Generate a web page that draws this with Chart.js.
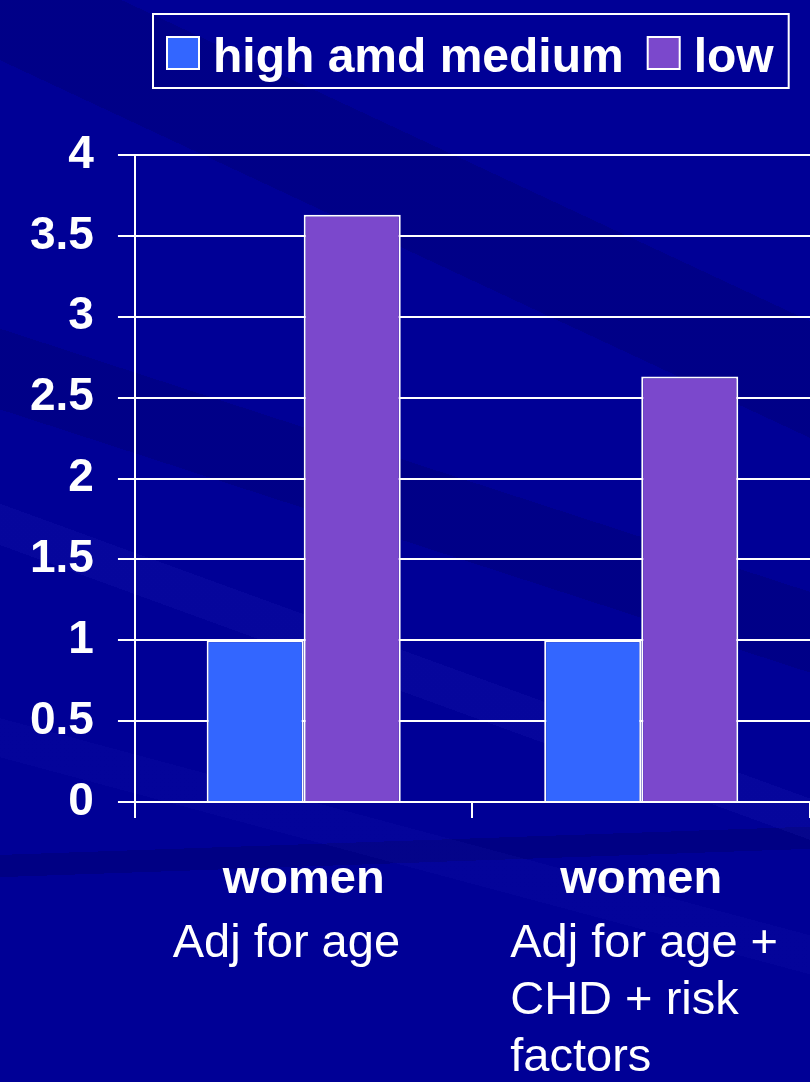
<!DOCTYPE html>
<html>
<head>
<meta charset="utf-8">
<title>high amd medium / low</title>
<script src="https://cdn.jsdelivr.net/npm/chart.js@4.4.0/dist/chart.umd.min.js"></script>
<style>
html, body { margin: 0; padding: 0; }
body {
    width: 810px;
    height: 1082px;
    overflow: hidden;
    background-color: #000096;
    background-image:
        linear-gradient(205deg, transparent 0 22%, rgba(0,0,70,0.18) 22% 30%, transparent 30% 100%),
        linear-gradient(198deg, transparent 0 44%, rgba(0,0,60,0.16) 44% 50%, transparent 50% 100%),
        linear-gradient(200deg, transparent 0 58%, rgba(60,60,210,0.10) 58% 61%, transparent 61% 100%),
        linear-gradient(195deg, transparent 0 72%, rgba(50,50,200,0.08) 72% 75%, transparent 75% 100%),
        linear-gradient(178deg, transparent 0 77%, rgba(0,0,60,0.20) 77% 79%, transparent 79% 100%);
}
canvas { display: block; }
</style>
</head>
<body>
<canvas id="chart" width="810" height="1082"></canvas>
<script>
// Datos
const categories = [
    ['women', 'Adj for age'],
    ['women', 'Adj for age +', 'CHD + risk', 'factors']
];
const seriesNames = ['high amd medium', 'low'];
const highMedium = [1, 1];
const low = [3.63, 2.63];
const yTicks = [0, 0.5, 1, 1.5, 2, 2.5, 3, 3.5, 4];

const colors = ['#3366FF', '#7B48CC'];
const FONT = '"Liberation Sans", Arial, Helvetica, sans-serif';

Chart.defaults.font.family = FONT;

// Leyenda con marco blanco
const boxLegend = {
    id: 'boxLegend',
    afterDraw(chart) {
        const ctx = chart.ctx;
        const sets = chart.data.datasets;
        ctx.save();
        ctx.font = 'bold 48px ' + FONT;
        ctx.textBaseline = 'alphabetic';
        let x = 167;
        sets.forEach((ds, i) => {
            ctx.fillStyle = ds.backgroundColor;
            ctx.fillRect(x, 37, 32, 32);
            ctx.strokeStyle = '#fff';
            ctx.lineWidth = 2;
            ctx.strokeRect(x, 37, 32, 32);
            ctx.fillStyle = '#fff';
            ctx.textAlign = 'left';
            ctx.fillText(ds.label, x + 46, 72);
            x += 46 + ctx.measureText(ds.label).width + 24;
        });
        ctx.strokeStyle = '#fff';
        ctx.lineWidth = 2;
        ctx.strokeRect(153, 14, x - 24 + 15 - 153, 74);
        ctx.restore();
    }
};

// Etiquetas del eje x: primera línea en negrita
const xLabels = {
    id: 'xLabels',
    afterDraw(chart) {
        const ctx = chart.ctx;
        const x = chart.scales.x;
        const base = chart.chartArea.bottom;
        ctx.save();
        ctx.fillStyle = '#fff';
        ctx.textBaseline = 'alphabetic';
        chart.data.labels.forEach((lines, i) => {
            const cx = x.getPixelForValue(i);
            ctx.font = 'bold 47px ' + FONT;
            ctx.textAlign = 'center';
            ctx.fillText(lines[0], cx, base + 91);
            ctx.font = '47px ' + FONT;
            ctx.textAlign = 'left';
            lines.slice(1).forEach((t, j) => {
                ctx.fillText(t, cx - 131, base + 155 + j * 57);
            });
        });
        ctx.restore();
    }
};

new Chart(document.getElementById('chart'), {
    type: 'bar',
    data: {
        labels: categories,
        datasets: [{
            label: seriesNames[0],
            data: highMedium,
            backgroundColor: colors[0],
            borderColor: '#fff',
            borderWidth: 2
        }, {
            label: seriesNames[1],
            data: low,
            backgroundColor: colors[1],
            borderColor: '#fff',
            borderWidth: 2
        }]
    },
    options: {
        responsive: false,
        animation: false,
        layout: {
            padding: { top: 155, left: 6, right: 0, bottom: 264 }
        },
        datasets: {
            bar: { categoryPercentage: 0.575, barPercentage: 1 }
        },
        plugins: {
            legend: { display: false },
            tooltip: { enabled: false }
        },
        scales: {
            x: {
                ticks: { display: false },
                grid: {
                    drawOnChartArea: false,
                    color: '#fff',
                    lineWidth: 2,
                    tickLength: 16
                },
                border: { color: '#fff', width: 2 }
            },
            y: {
                min: 0,
                max: 4,
                afterBuildTicks: scale => {
                    scale.ticks = yTicks.map(v => ({ value: v }));
                },
                ticks: {
                    color: '#fff',
                    padding: 24,
                    font: { size: 46, weight: 'bold' },
                    callback: value => String(value)
                },
                grid: {
                    color: '#fff',
                    lineWidth: 2,
                    tickLength: 17
                },
                border: { color: '#fff', width: 2 }
            }
        }
    },
    plugins: [boxLegend, xLabels]
});
</script>
</body>
</html>
